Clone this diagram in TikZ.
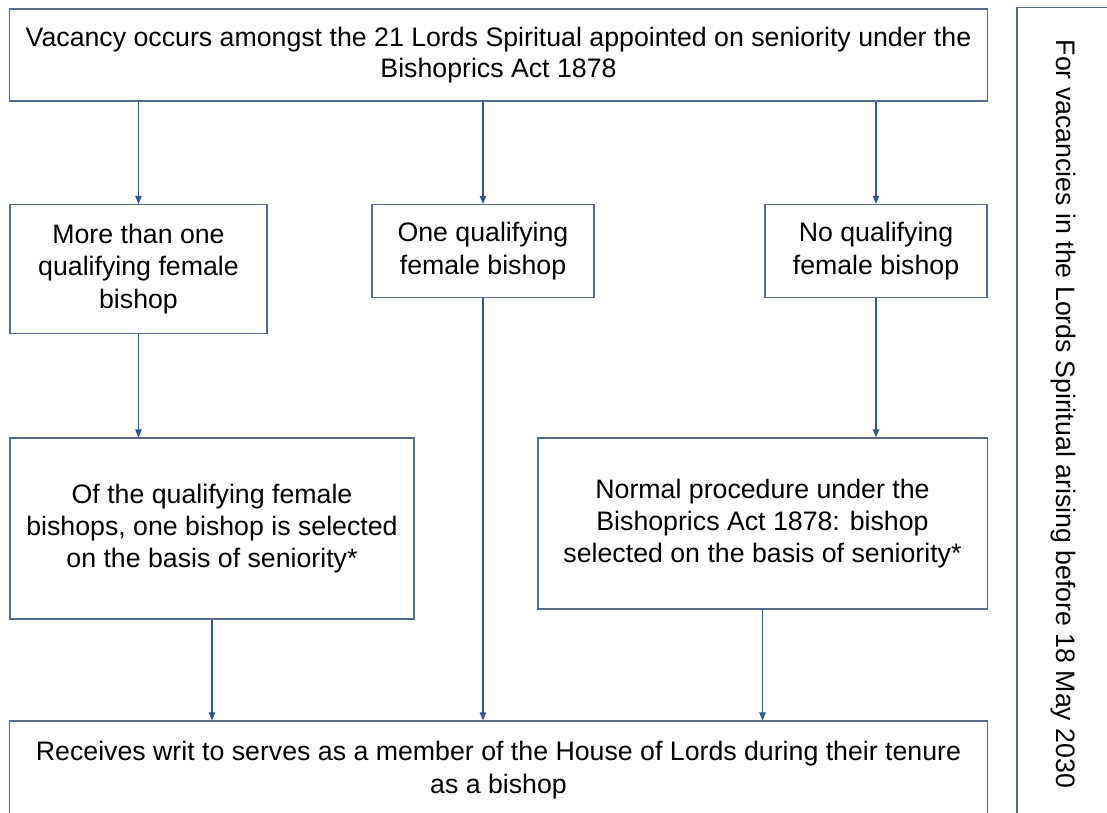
\documentclass[tikz,border=0pt]{standalone}
\usepackage{fontspec}
\setmainfont{Liberation Sans}
\usetikzlibrary{positioning,arrows.meta}
\definecolor{boxline}{RGB}{88,106,138}
\definecolor{arrowline}{RGB}{47,85,151}

\begin{document}
\begin{tikzpicture}[x=0.025cm,y=-0.025cm,
  box/.style={draw=boxline,line width=0.8pt,inner sep=0pt,align=center,
    font=\fontsize{19}{23}\selectfont},
  arr/.style={draw=arrowline,line width=0.8pt,-{Triangle[length=2mm,width=1.6mm]}}]
  \useasboundingbox (0,0) rectangle (1107,812);
  \clip (0,0) rectangle (1107,812);

  % Vacancy
  \node[box,minimum width=24.425cm,minimum height=2.3cm,
    font=\fontsize{19}{22}\selectfont] (vacancy) at (498.5,55)
    {Vacancy occurs amongst the 21 Lords Spiritual appointed on seniority under the\\Bishoprics Act 1878};

  % Cases
  \node[box,minimum width=6.425cm,minimum height=3.225cm] (many) at (138.5,269)
    {More than one\\qualifying female\\bishop};
  \node[box,minimum width=5.55cm,minimum height=2.325cm] (one) at (483,251)
    {One qualifying\\female bishop};
  \node[box,minimum width=5.55cm,minimum height=2.325cm] (none) at (876,251)
    {No qualifying\\female bishop};

  % Selection
  \node[box,minimum width=10.1cm,minimum height=4.525cm] (select) at (212,528.5)
    {Of the qualifying female\\bishops, one bishop is selected\\on the basis of seniority*};
  \node[box,minimum width=11.225cm,minimum height=4.275cm] (normal) at (762.5,523.5)
    {Normal procedure under the\\Bishoprics Act 1878: bishop\\selected on the basis of seniority*};

  % Writ
  \node[box,minimum width=24.425cm,minimum height=2.45cm] (writ) at (498.5,770)
    {Receives writ to serves as a member of the House of Lords during their tenure\\as a bishop};

  % Side note
  \node[box,rotate=-90,minimum width=20.3cm,minimum height=2.3cm] (note) at (1063,414)
    {For vacancies in the Lords Spiritual arising before 18 May 2030};

  % Arrows
  \foreach \n in {many,one,none} {
    \draw[arr] (vacancy.south -| \n.north) -- (\n.north);
  }
  \draw[arr] (many.south) -- (many.south |- select.north);
  \draw[arr] (none.south) -- (none.south |- normal.north);
  \foreach \n in {select,one,normal} {
    \draw[arr] (\n.south) -- (\n.south |- writ.north);
  }

\end{tikzpicture}
\end{document}
